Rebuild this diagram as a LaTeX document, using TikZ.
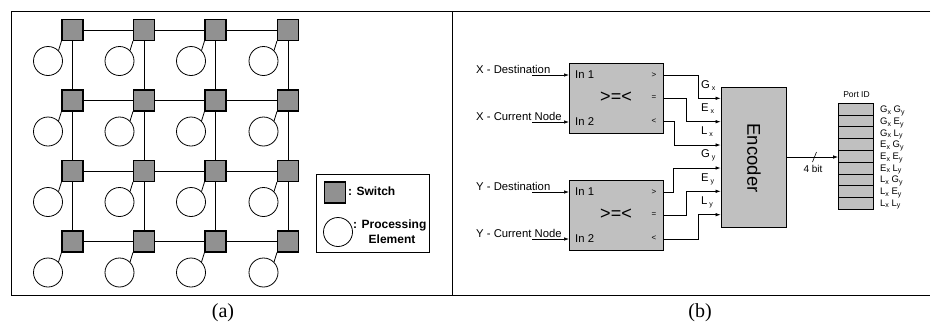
\documentclass[tikz,border=0pt]{standalone}
\usepackage{fontspec}
\setmainfont{Liberation Sans}
\newfontfamily\serifcap{Liberation Serif}
\usetikzlibrary{arrows.meta}
\definecolor{swgray}{RGB}{145,145,145}
\definecolor{boxgray}{RGB}{192,192,192}
\tikzset{
  sw/.style={draw=black, line width=1.1pt, fill=swgray, minimum width=21pt, minimum height=21pt, inner sep=0pt},
  pe/.style={draw=black, line width=0.8pt, fill=white, circle, minimum size=29pt, inner sep=0pt},
  wire/.style={line width=0.8pt},
  cmpbox/.style={draw=black, line width=0.8pt, fill=boxgray, minimum width=94pt, minimum height=70pt, inner sep=0pt},
  sig/.style={line width=0.7pt, -{Latex[length=5pt,width=3.5pt]}},
  lbl/.style={font=\fontsize{11.3}{12}\selectfont, inner sep=0pt},
  small/.style={font=\fontsize{8}{9}\selectfont, inner sep=0pt},
  cell/.style={draw=black, line width=0.8pt, fill=boxgray, minimum width=35pt, minimum height=11.78pt, inner sep=0pt},
  pl/.style={font=\fontsize{9.5}{10}\selectfont, inner sep=0pt, anchor=west},
}
\newcommand{\sbx}[1]{\raisebox{-0.35ex}{\fontsize{7}{7}\selectfont #1}}
\begin{document}
\begin{tikzpicture}[x=1pt,y=-1pt]
\useasboundingbox (0,0) rectangle (931,325);
% frame
\draw[line width=1pt] (930,11.5) -- (11,11.5) -- (11,295) -- (930,295);
\draw[line width=0.8pt] (452,11.5) -- (452,295);
% captions
\node[font=\serifcap\fontsize{20}{21}\selectfont] (capa) at (223,313) {(a)};
\node[font=\serifcap\fontsize{20}{21}\selectfont] (capb) at (700,313) {(b)};
% mesh
\foreach \c/\xx in {1/72.5,2/144,3/215.5,4/288}{
  \foreach \r/\yy in {1/30,2/100.5,3/171,4/241.5}{
    \node[sw] (s\c\r) at (\xx,\yy) {};
    \node[pe] (p\c\r) at (\xx-24.5,\yy+31) {};
  }
}
\foreach \c in {1,...,4}{
  \foreach \r in {1,...,4}{
    \draw[wire] (s\c\r.south west) -- (p\c\r.45);
  }
}
\foreach \r in {1,...,4}{
  \draw[wire] (s1\r) -- (s2\r) -- (s3\r) -- (s4\r);
}
\foreach \c in {1,...,4}{
  \draw[wire] (s\c1) -- (s\c2) -- (s\c3) -- (s\c4);
}
% legend
\node[draw=black, line width=0.8pt, minimum width=113pt, minimum height=78pt, inner sep=0pt] (leg) at (372.5,213) {};
\node[sw] (legsw) at (335,192.5) {};
\node[pe] (legpe) at (338,232) {};
\node[anchor=west, inner sep=0pt, font=\bfseries\fontsize{12}{13}\selectfont] (legswt) at (348,191) {: Switch};
\node[anchor=west, inner sep=0pt, font=\bfseries\fontsize{12}{13}\selectfont] (legpet) at (353,225) {: Processing};
\node[inner sep=0pt, font=\bfseries\fontsize{12}{13}\selectfont] (legpet2) at (392,239) {Element};
% comparators
\node[cmpbox] (c1) at (616,98) {};
\node[cmpbox] (c2) at (616,215) {};
\foreach \k/\yy in {1/0,2/117}{
  \node[lbl, anchor=west] at (575,75+\yy) {In 1};
  \node[lbl, anchor=west] at (575,122+\yy) {In 2};
  \node[inner sep=0pt, font=\fontsize{18}{19}\selectfont] at (616,97.5+\yy) {>=<};
}
\node[small] (g1) at (654,75) {>};
\node[small] (e1) at (654,98) {=};
\node[small] (l1) at (654,121) {<};
\node[small] (g2) at (654,192) {>};
\node[small] (e2) at (654,215) {=};
\node[small] (l2) at (654,238.5) {<};
% inputs
\coordinate (xd) at (532,75);
\coordinate (xc) at (532,122);
\coordinate (yd) at (532,192);
\coordinate (yc) at (532,239);
\draw[sig] (xd) -- (569,75);
\draw[sig] (xc) -- (569,122);
\draw[sig] (yd) -- (569,192);
\draw[sig] (yc) -- (569,239);
\node[lbl, anchor=west] (xdt) at (476,69) {X - Destination};
\node[lbl, anchor=west] (xct) at (476,116) {X - Current Node};
\node[lbl, anchor=west] (ydt) at (476,186) {Y - Destination};
\node[lbl, anchor=west] (yct) at (476,233) {Y - Current Node};
% encoder
\node[draw=black, line width=0.8pt, fill=boxgray, minimum width=65pt, minimum height=140pt, inner sep=0pt] (enc) at (753.5,157) {};
\node[rotate=-90, inner sep=0pt, font=\fontsize{18.5}{19}\selectfont] at (754,158) {Encoder};
% outputs
\draw[sig] (663,75) -- (698,75) -- (698,98.3) -- (enc.west |- 0,98.3);
\draw[sig] (663,98) -- (686,98) -- (686,121.7) -- (enc.west |- 0,121.7);
\draw[sig] (663,121.5) -- (674,121.5) -- (674,145) -- (enc.west |- 0,145);
\draw[sig] (663,192) -- (673.5,192) -- (673.5,168) -- (enc.west |- 0,168);
\draw[sig] (663,215) -- (686,215) -- (686,191.3) -- (enc.west |- 0,191.3);
\draw[sig] (663,239) -- (698,239) -- (698,214.7) -- (enc.west |- 0,214.7);
\node[lbl, anchor=west] at (701,86) {G\,\sbx{x}};
\node[lbl, anchor=west] at (701,109) {E\,\sbx{x}};
\node[lbl, anchor=west] at (701,132) {L\,\sbx{x}};
\node[lbl, anchor=west] at (701,155.5) {G\,\sbx{y}};
\node[lbl, anchor=west] at (701,179) {E\,\sbx{y}};
\node[lbl, anchor=west] at (701,202) {L\,\sbx{y}};
% port ID
\foreach \i in {1,...,9}{
  \node[cell] (pc\i) at (856,103.3+\i*11.78-5.89) {};
}
\node[small, font=\fontsize{8.5}{9}\selectfont] (portid) at (856.5,95) {Port ID};
\draw[sig] (enc.east |- 0,157) -- (pc5.west |- 0,157);
\draw[line width=0.6pt] (812.5,162) -- (816.5,152);
\node[small, font=\fontsize{10}{10}\selectfont] (fb) at (813,168.5) {4 bit};
\foreach \i/\a/\b in {1/G/G,2/G/E,3/G/L,4/E/G,5/E/E,6/E/L,7/L/G,8/L/E,9/L/L}{
  \node[pl] at (880,109.2+\i*11.66-11.66+2) {\a\sbx{x} \b\sbx{y}};
}
\end{tikzpicture}
\end{document}
